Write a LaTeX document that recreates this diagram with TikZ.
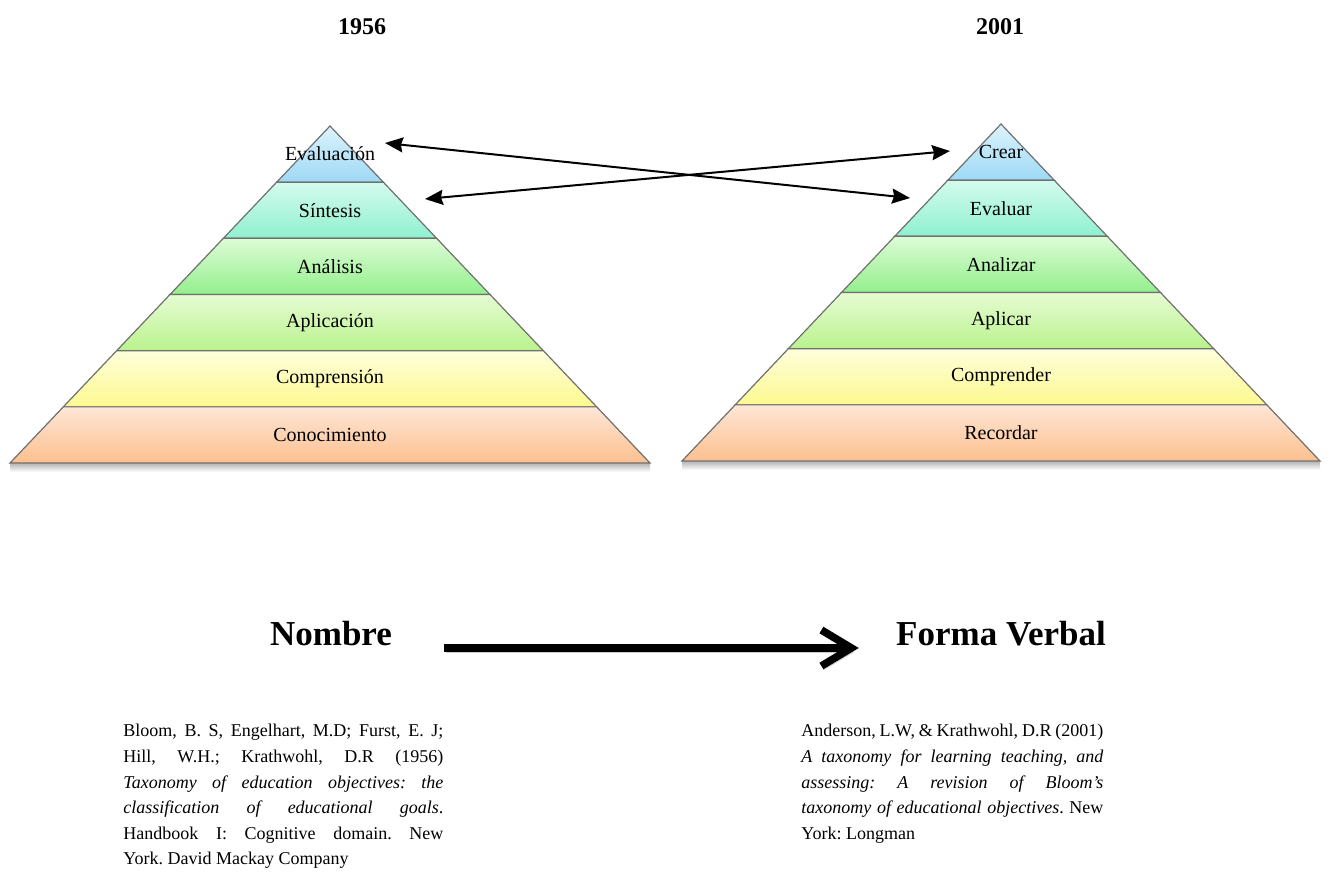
\documentclass[tikz,border=0pt]{standalone}
\usepackage{fontspec}
\setmainfont{Liberation Serif}
\usetikzlibrary{arrows.meta, positioning}

\definecolor{blueT}{HTML}{DDF3FD}
\definecolor{blueB}{HTML}{9DD9F5}
\definecolor{mintT}{HTML}{D4FBEE}
\definecolor{mintB}{HTML}{8FF0CF}
\definecolor{grnT}{HTML}{DDFCD6}
\definecolor{grnB}{HTML}{93EF8C}
\definecolor{lgrT}{HTML}{E6FCD3}
\definecolor{lgrB}{HTML}{BAF28E}
\definecolor{yelT}{HTML}{FEFEDC}
\definecolor{yelB}{HTML}{FDF98F}
\definecolor{orgT}{HTML}{FEE6D6}
\definecolor{orgB}{HTML}{FCC08F}
\definecolor{bandgray}{HTML}{707070}

\begin{document}
\frenchspacing
\begin{tikzpicture}[
  x=0.5pt, y=-0.5pt,
  year/.style={font=\fontsize{12}{14}\selectfont\bfseries, inner sep=0pt, anchor=base},
  lvl/.style={font=\fontsize{10}{12}\selectfont, inner sep=1pt},
  bandline/.style={draw=bandgray, line width=0.6pt},
  link/.style={{Stealth[length=9pt,width=7.5pt,inset=1pt]}-{Stealth[length=9pt,width=7.5pt,inset=1pt]}, line width=1pt},
  heading/.style={font=\fontsize{17.5}{20}\selectfont\bfseries, inner sep=0pt, anchor=base},
  bigarrow/.style={-{Straight Barb[length=15pt,width=18pt]}, line width=3.8pt,
    preaction={draw, black!20, transform canvas={shift={(1pt,-2pt)}}}},
  cite/.style={font=\fontsize{9}{12.8}\selectfont\sloppy\frenchspacing, inner sep=0pt, anchor=north west, align=justify}
]
\useasboundingbox (0,0) rectangle (1330,895);

% Years
\node[year] (y56) at (362,34) {1956};
\node[year] (y01) at (1000,34) {2001};

% Pyramids (apex x / apex y / half base)
\foreach \cx/\ay/\hw in {330/126/320, 1001/124/319} {
  \shade[top color=black!30, bottom color=white] ({\cx-\hw},{\ay+337}) rectangle ({\cx+\hw},{\ay+346});
  \foreach \k/\ct/\cb in {0/blueT/blueB, 1/mintT/mintB, 2/grnT/grnB, 3/lgrT/lgrB, 4/yelT/yelB, 5/orgT/orgB} {
    \pgfmathsetmacro\ya{\ay+56.17*\k}
    \pgfmathsetmacro\yb{\ay+56.17*(\k+1)}
    \pgfmathsetmacro\wa{\hw*\k/6}
    \pgfmathsetmacro\wb{\hw*(\k+1)/6}
    \shade[top color=\ct, bottom color=\cb, bandline] ({\cx-\wa},\ya) -- ({\cx+\wa},\ya) -- ({\cx+\wb},\yb) -- ({\cx-\wb},\yb) -- cycle;
  }
}

% Levels 1956
\foreach \k/\nm/\txt in {0/ev/Evaluación, 1/sin/Síntesis, 2/anl/Análisis, 3/apc/Aplicación, 4/cmp/Comprensión, 5/con/Conocimiento}
  \node[lvl] (\nm) at (330,{154+56.17*\k}) {\txt};

% Levels 2001
\foreach \k/\nm/\txt in {0/cre/Crear, 1/eva/Evaluar, 2/ana/Analizar, 3/apl/Aplicar, 4/com/Comprender, 5/rec/Recordar}
  \node[lvl] (\nm) at (1001,{152+56.17*\k}) {\txt};

% Arrow ends
\coordinate (evR) at (385,143);
\coordinate (evaL) at (910,198);
\coordinate (sinR) at (425,199);
\coordinate (creL) at (950,151);
\draw[link] (evR) -- (evaL);
\draw[link] (sinR) -- (creL);

% Nombre -> Forma Verbal
\node[heading] (nom) at (331,645) {Nombre};
\node[heading] (verb) at (1001,645) {Forma Verbal};
\draw[bigarrow] ([shift={(52,3)}]nom.base east) -- ([shift={(-37,3)}]verb.base west);

% References
\node[cite, text width=160pt] (bloom) at (123,724) {Bloom, B. S, Engelhart, M.D; Furst, E. J;\linebreak
  Hill, W.H.; Krathwohl, D.R (1956)\linebreak
  \textit{Taxonomy of education objectives: the\linebreak
  classification of educational goals}.\linebreak
  Handbook I: Cognitive domain. New\linebreak
  York. David Mackay Company};
\node[cite, text width=151pt] (anderson) at (801,724) {Anderson, L.W, \& Krathwohl, D.R (2001)\linebreak
  \textit{A taxonomy for learning teaching, and\linebreak
  assessing: A revision of Bloom's\linebreak
  taxonomy of educational objectives}. New\linebreak
  York: Longman};

\end{tikzpicture}
\end{document}
